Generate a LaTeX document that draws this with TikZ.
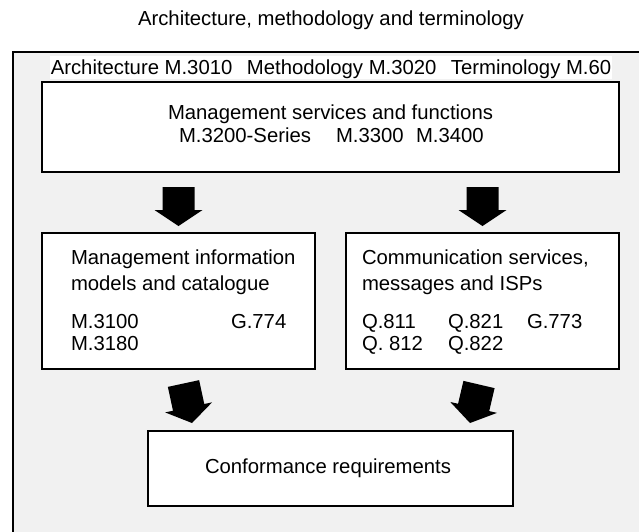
\documentclass[tikz,border=0pt]{standalone}
\usepackage{fontspec}
\setmainfont{Liberation Sans}
\usetikzlibrary{calc}
\definecolor{panel}{RGB}{241,241,241}
\tikzset{
  box/.style={draw=black, fill=white, line width=1.3pt, inner sep=0pt, outer sep=0pt, anchor=north west},
  lbl/.style={inner sep=0pt, outer sep=0pt, font=\fontsize{20.3}{23}\selectfont},
}
\newcommand{\blockarrow}[2]{%
  \coordinate (bah) at ($(#2)!16pt!(#1)$);
  \fill[black] ($(#1)!16pt!90:(#2)$) -- ($(bah)!16pt!90:(#2)$) -- ($(bah)!24pt!90:(#2)$) -- (#2)
    -- ($(bah)!24pt!-90:(#2)$) -- ($(bah)!16pt!-90:(#2)$) -- ($(#1)!16pt!-90:(#2)$) -- cycle;}
\begin{document}
\begin{tikzpicture}[x=1pt,y=-1pt]
\useasboundingbox (0,0) rectangle (639,531);
\clip (0,0) rectangle (639,531);
\fill[white] (0,0) rectangle (639,531);
\node[lbl, anchor=base] (title) at (331,25) {Architecture, methodology and terminology};
\draw[fill=panel, line width=1.3pt] (13,52) rectangle (700,600);
\node[lbl, fill=white, inner xsep=1pt, inner ysep=3pt, text height=15pt, text depth=2pt, anchor=base] (hdr) at (331,74) {Architecture M.3010\hspace{14.5pt}Methodology M.3020\hspace{14.5pt}Terminology M.60};
\node[box, minimum width=577pt, minimum height=90pt] (top) at (42,82) {};
\node[box, minimum width=273pt, minimum height=136pt] (lbox) at (42,233) {};
\node[box, minimum width=273pt, minimum height=136pt] (rbox) at (346,233) {};
\node[box, minimum width=365pt, minimum height=75pt] (conf) at (148,431) {};
% top box text
\node[lbl, anchor=base] (t1) at (330.5,119) {Management services and functions};
\node[lbl, anchor=base west] (t2) at (179,142) {M.3200-Series};
\node[lbl, anchor=base west] (t3) at (336,142) {M.3300};
\node[lbl, anchor=base west] (t4) at (416,142) {M.3400};
% left box text
\node[lbl, anchor=base west] (l1) at (71,264) {Management information};
\node[lbl, anchor=base west] (l2) at (71,290) {models and catalogue};
\node[lbl, anchor=base west] (l3) at (71,328) {M.3100};
\node[lbl, anchor=base west] (l4) at (231,328) {G.774};
\node[lbl, anchor=base west] (l5) at (71,350) {M.3180};
% right box text
\node[lbl, anchor=base west] (r1) at (362,264) {Communication services,};
\node[lbl, anchor=base west] (r2) at (362,290) {messages and ISPs};
\node[lbl, anchor=base west] (r3) at (362,328) {Q.811};
\node[lbl, anchor=base west] (r4) at (448,328) {Q.821};
\node[lbl, anchor=base west] (r5) at (527,328) {G.773};
\node[lbl, anchor=base west] (r6) at (362,350) {Q. 812};
\node[lbl, anchor=base west] (r7) at (448,350) {Q.822};
% bottom box text
\node[lbl, anchor=base] (c1) at (328,473) {Conformance requirements};
% block arrows
\coordinate (a1s) at ($(top.south -| lbox.north)+(0,15)$);
\coordinate (a1e) at ($(lbox.north)+(0,-7)$);
\coordinate (a2s) at ($(top.south -| rbox.north)+(0,15)$);
\coordinate (a2e) at ($(rbox.north)+(0,-7)$);
\coordinate (a3s) at ($(lbox.south)+(5,14.5)$);
\coordinate (a3e) at ($(conf.north west)+(44,-8)$);
\coordinate (a4s) at ($(rbox.south)+(-3.5,15.5)$);
\coordinate (a4e) at ($(conf.north east)+(-43,-8)$);
\blockarrow{a1s}{a1e}
\blockarrow{a2s}{a2e}
\blockarrow{a3s}{a3e}
\blockarrow{a4s}{a4e}
\end{tikzpicture}
\end{document}
